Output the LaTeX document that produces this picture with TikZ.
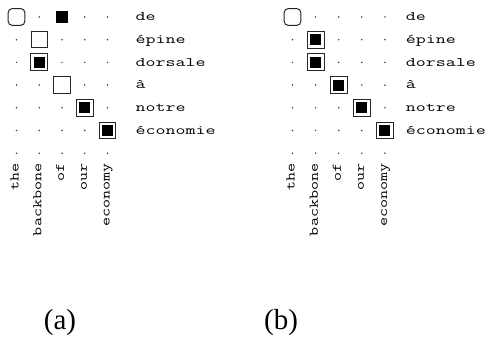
\documentclass[tikz,border=0pt]{standalone}
\usepackage{fontspec}
\usepackage{graphicx}
\newfontfamily\capfont{Liberation Serif}
\newcommand\hw[1]{{\fontsize{13.1}{15}\selectfont\ttfamily\scalebox{1.48}[1]{#1}}}
\newcommand\vw[1]{{\fontsize{13.2}{15}\selectfont\ttfamily\scalebox{1.33}[1]{#1}}}
\begin{document}
\begin{tikzpicture}[x=1pt,y=-1pt,
  mk-d/.style={circle, fill=black!75, inner sep=0pt, minimum size=1.7pt},
  mk-r/.style={draw=black!85, line width=1pt, rounded corners=4pt, minimum size=16.7pt, inner sep=0pt},
  mk-o/.style={draw=black!85, fill=white, line width=1pt, minimum size=16.5pt, inner sep=0pt},
  mk-s/.style={fill=black, minimum size=12pt, inner sep=0pt},
  mk-b/.style={draw=black!85, fill=white, line width=1pt, minimum size=16.8pt, inner sep=0pt,
    path picture={\fill[black] ([shift={(-5.5pt,-5.5pt)}]path picture bounding box.center) rectangle ([shift={(5.5pt,5.5pt)}]path picture bounding box.center);}},
  hlabel/.style={anchor=base west, inner sep=0pt},
  vlabel/.style={rotate=90, anchor=mid east, inner sep=0pt},
  caplabel/.style={font=\capfont\fontsize{29}{32}\selectfont, inner sep=0pt}
]
\path[use as bounding box] (0,0) rectangle (491,344);
% panel (a)
\def\ax{16.5}\def\adx{22.75}
\def\by{17}\def\dy{22.7}
\foreach \r/\ms in {0/{r,d,s,d,d},1/{d,o,d,d,d},2/{d,b,d,d,d},3/{d,d,o,d,d},4/{d,d,d,b,d},5/{d,d,d,d,b},6/{d,d,d,d,d}}{
  \foreach \m [count=\c from 0] in \ms {
    \node[mk-\m] (pa-\r-\c) at (\ax+\c*\adx, \by+\r*\dy) {};
  }
}
\foreach \w [count=\r from 0] in {de,épine,dorsale,à,notre,économie}{
  \node[hlabel] (pa-f\r) at (135.5, \by+\r*\dy+3.7) {\hw{\w}};
}
\foreach \w [count=\c from 0] in {the,backbone,of,our,economy}{
  \node[vlabel] (pa-e\c) at (\ax+\c*\adx, 163.5) {\vw{\w}};
}
% panel (b)
\def\bx{292.5}\def\bdx{23.1}
\foreach \r/\ms in {0/{r,d,d,d,d},1/{d,b,d,d,d},2/{d,b,d,d,d},3/{d,d,b,d,d},4/{d,d,d,b,d},5/{d,d,d,d,b},6/{d,d,d,d,d}}{
  \foreach \m [count=\c from 0] in \ms {
    \node[mk-\m] (pb-\r-\c) at (\bx+\c*\bdx, \by+\r*\dy) {};
  }
}
\foreach \w [count=\r from 0] in {de,épine,dorsale,à,notre,économie}{
  \node[hlabel] (pb-f\r) at (405.7, \by+\r*\dy+3.7) {\hw{\w}};
}
\foreach \w [count=\c from 0] in {the,backbone,of,our,economy}{
  \node[vlabel] (pb-e\c) at (\bx+\c*\bdx, 163.5) {\vw{\w}};
}
% captions
\node[caplabel] (capa) at (60,323) {(a)};
\node[caplabel] (capb) at (281,323) {(b)};
\end{tikzpicture}
\end{document}
